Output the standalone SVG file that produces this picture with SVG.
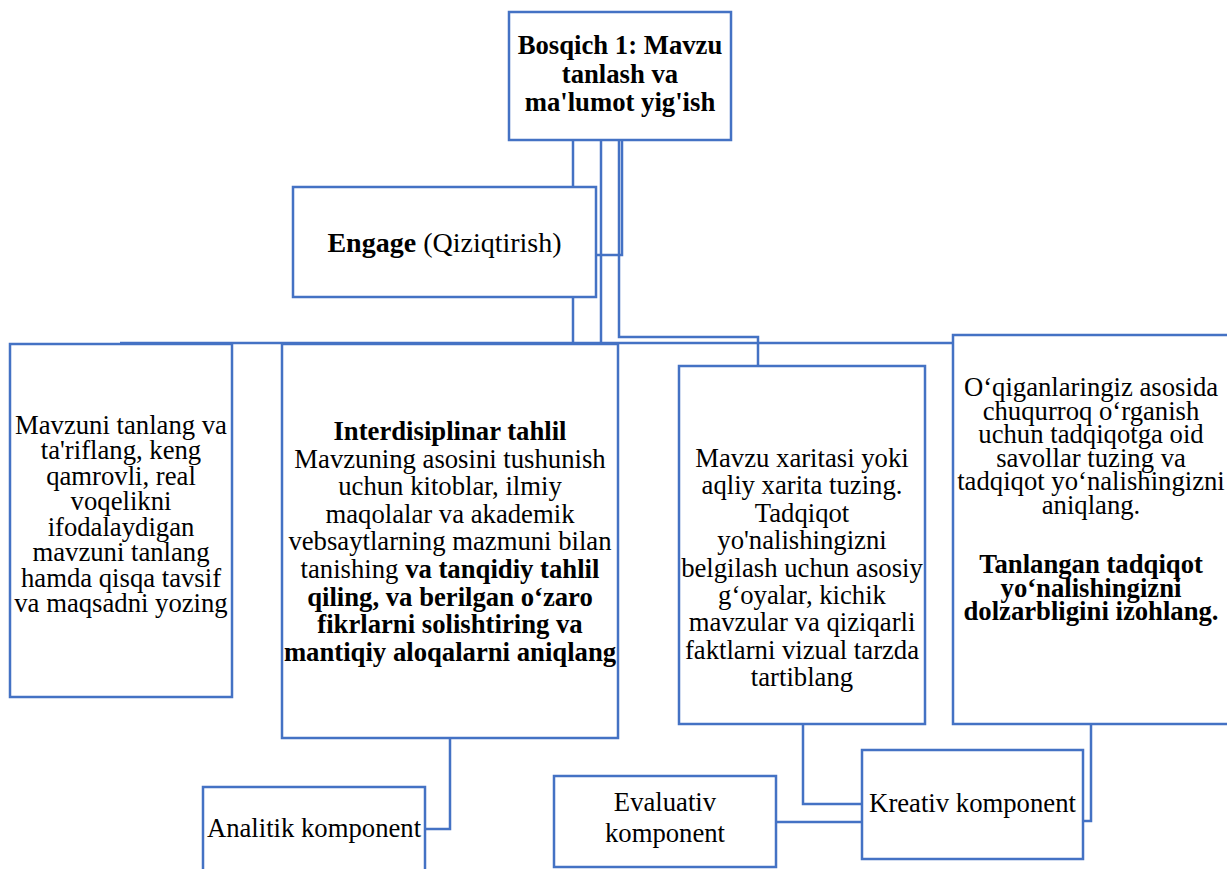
<svg xmlns="http://www.w3.org/2000/svg" width="1227" height="869" viewBox="0 0 1227 869">
<style>
.box{fill:#fff;stroke:#4472C4;stroke-width:2.5}
.con{fill:none;stroke:#4472C4;stroke-width:2.5}
text{font-family:"Liberation Serif","Times New Roman",serif;font-size:26.7px;fill:#000;text-anchor:middle}
.b{font-weight:bold}
</style>
<rect width="1227" height="869" fill="#fff"/>
<g id="connectors">
<polyline class="con" points="573,140 573,187"/>
<polyline class="con" points="573,297 573,343"/>
<polyline class="con" points="601,140 601,343"/>
<polyline class="con" points="622,140 622,255 596,255"/>
<polyline class="con" points="619,140 619,337 758,337 758,366"/>
<polyline class="con" points="120,343 953,343"/>
<polyline class="con" points="450,738 450,829 425,829"/>
<polyline class="con" points="803,724 803,804 862,804"/>
<polyline class="con" points="1091,724 1091,821 1083,821"/>
<polyline class="con" points="776,822 862,822"/>
</g>
<g id="n_top">
<rect class="box" x="509" y="12" width="222" height="128"/>
<text class="b" x="620" y="54">Bosqich 1: Mavzu</text>
<text class="b" x="620" y="82.5">tanlash va</text>
<text class="b" x="620" y="111">ma'lumot yig'ish</text>
</g>
<g id="n_engage">
<rect class="box" x="293" y="187" width="303" height="110"/>
<text x="444.5" y="252" style="font-size:28px"><tspan class="b">Engage</tspan> (Qiziqtirish)</text>
</g>
<g id="n_left">
<rect class="box" x="10" y="344" width="222" height="353"/>
<text x="121" y="433.5">Mavzuni tanlang va</text>
<text x="121" y="459">ta'riflang, keng</text>
<text x="121" y="484.5">qamrovli, real</text>
<text x="121" y="510">voqelikni</text>
<text x="121" y="535.5">ifodalaydigan</text>
<text x="121" y="561">mavzuni tanlang</text>
<text x="121" y="586.5">hamda qisqa tavsif</text>
<text x="121" y="612">va maqsadni yozing</text>
</g>
<g id="n_inter">
<rect class="box" x="282" y="344" width="336" height="394"/>
<text class="b" x="450" y="440">Interdisiplinar tahlil</text>
<text x="450" y="467.6">Mavzuning asosini tushunish</text>
<text x="450" y="495.2">uchun kitoblar, ilmiy</text>
<text x="450" y="522.8">maqolalar va akademik</text>
<text x="450" y="550.4">vebsaytlarning mazmuni bilan</text>
<text x="450" y="578">tanishing <tspan class="b">va tanqidiy tahlil</tspan></text>
<text class="b" x="450" y="605.6">qiling, va berilgan o‘zaro</text>
<text class="b" x="450" y="633.2">fikrlarni solishtiring va</text>
<text class="b" x="450" y="660.8">mantiqiy aloqalarni aniqlang</text>
</g>
<g id="n_map">
<rect class="box" x="679" y="366" width="246" height="358"/>
<text x="802" y="467">Mavzu xaritasi yoki</text>
<text x="802" y="494.4">aqliy xarita tuzing.</text>
<text x="802" y="521.8">Tadqiqot</text>
<text x="802" y="549.2">yo'nalishingizni</text>
<text x="802" y="576.6">belgilash uchun asosiy</text>
<text x="802" y="604">g‘oyalar, kichik</text>
<text x="802" y="631.4">mavzular va qiziqarli</text>
<text x="802" y="658.8">faktlarni vizual tarzda</text>
<text x="802" y="686.2">tartiblang</text>
</g>
<g id="n_right">
<rect class="box" x="953" y="335" width="280" height="389"/>
<text x="1091" y="396">O‘qiganlaringiz asosida</text>
<text x="1091" y="420">chuqurroq o‘rganish</text>
<text x="1091" y="443">uchun tadqiqotga oid</text>
<text x="1091" y="467">savollar tuzing va</text>
<text x="1091" y="490">tadqiqot yo‘nalishingizni</text>
<text x="1091" y="514">aniqlang.</text>
<text class="b" x="1091" y="573">Tanlangan tadqiqot</text>
<text class="b" x="1091" y="597">yo‘nalishingizni</text>
<text class="b" x="1091" y="620">dolzarbligini izohlang.</text>
</g>
<g id="n_analitik">
<rect class="box" x="203" y="787" width="222" height="90"/>
<text x="314" y="837">Analitik komponent</text>
</g>
<g id="n_evaluativ">
<rect class="box" x="554" y="776" width="222" height="91"/>
<text x="665" y="811">Evaluativ</text>
<text x="665" y="842">komponent</text>
</g>
<g id="n_kreativ">
<rect class="box" x="862" y="750" width="221" height="109"/>
<text x="972.5" y="812">Kreativ komponent</text>
</g>
</svg>
